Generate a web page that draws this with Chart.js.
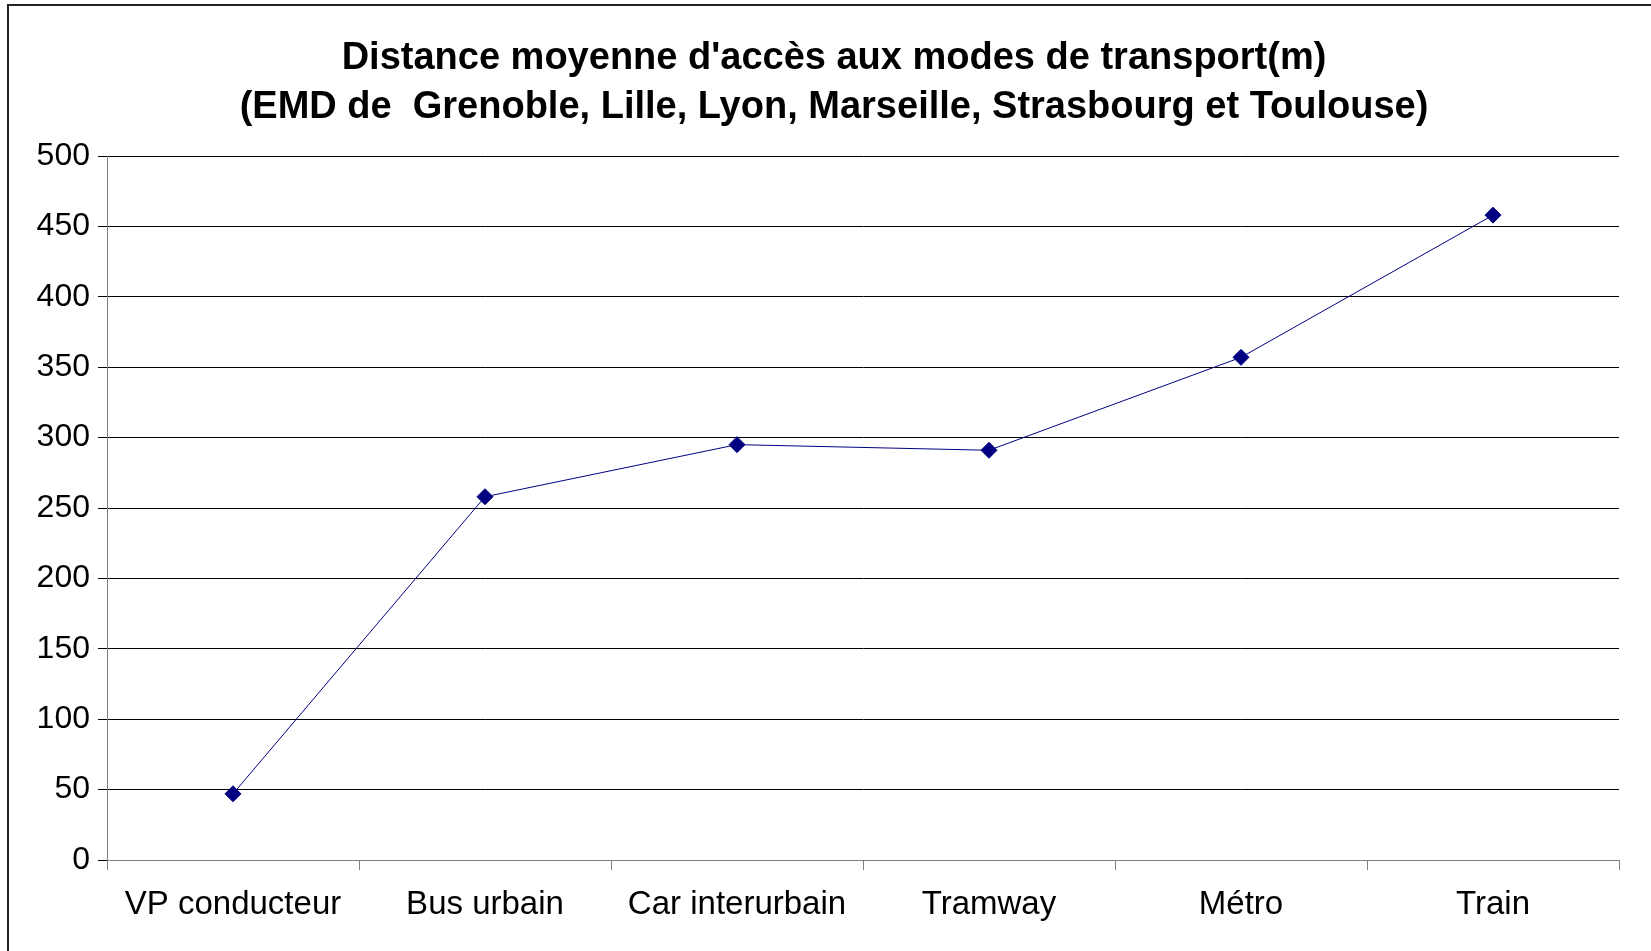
<!DOCTYPE html>
<html>
<head>
<meta charset="utf-8">
<script src="https://cdn.jsdelivr.net/npm/chart.js@4.4.1/dist/chart.umd.min.js"></script>
<style>
    body { margin: 0; background: #fff; overflow: hidden; }
    #wrap { position: relative; width: 1651px; height: 951px; }
    #frame { position: absolute; left: 7px; top: 4px; width: 1700px; height: 1000px; border: 2px solid #222; box-sizing: border-box; pointer-events: none; }
</style>
</head>
<body>
<div id="wrap">
    <canvas id="chart" width="1651" height="951"></canvas>
    <div id="frame"></div>
</div>
<script>
const categories = ["VP conducteur", "Bus urbain", "Car interurbain", "Tramway", "Métro", "Train"];
const distances = [47, 258, 295, 291, 357, 458];
const titleLines = [
    "Distance moyenne d'accès aux modes de transport(m)",
    "(EMD de  Grenoble, Lille, Lyon, Marseille, Strasbourg et Toulouse)"
];

const font = "'Liberation Sans', Arial, sans-serif";

// titre centré sur le cadre (pas sur la zone du graphique)
const titlePlugin = {
    id: "frameTitle",
    afterDraw(chart) {
        const ctx = chart.ctx;
        ctx.save();
        ctx.font = "bold 38px " + font;
        ctx.fillStyle = "#000";
        ctx.textAlign = "center";
        ctx.textBaseline = "middle";
        titleLines.forEach((line, i) => {
            ctx.fillText(line, 834, 59 + i * 48.5);
        });
        ctx.restore();
    }
};

new Chart(document.getElementById("chart").getContext("2d"), {
    type: "line",
    data: {
        labels: categories,
        datasets: [{
            data: distances,
            borderColor: "#000080",
            backgroundColor: "#000080",
            borderWidth: 1,
            pointStyle: "rectRot",
            pointRadius: 8,
            pointHoverRadius: 8,
            tension: 0,
            fill: false
        }]
    },
    options: {
        responsive: false,
        animation: false,
        layout: { padding: { top: 156, right: 32, left: 0, bottom: 0 } },
        plugins: {
            legend: { display: false },
            tooltip: { enabled: false },
            title: { display: false }
        },
        scales: {
            x: {
                offset: true,
                grid: { offset: true, drawOnChartArea: false, color: "#808080", tickLength: 10 },
                border: { color: "#808080" },
                ticks: { color: "#000", font: { family: font, size: 33 }, padding: 15, maxRotation: 0 },
                afterFit: s => { s.height = 91; }
            },
            y: {
                min: 0,
                max: 500,
                ticks: { stepSize: 50, color: "#000", font: { family: font, size: 32 }, padding: 8 },
                grid: { color: "#000", tickLength: 9 },
                border: { color: "#808080" },
                afterFit: s => { s.width = 107; }
            }
        }
    },
    plugins: [titlePlugin]
});
</script>
</body>
</html>
